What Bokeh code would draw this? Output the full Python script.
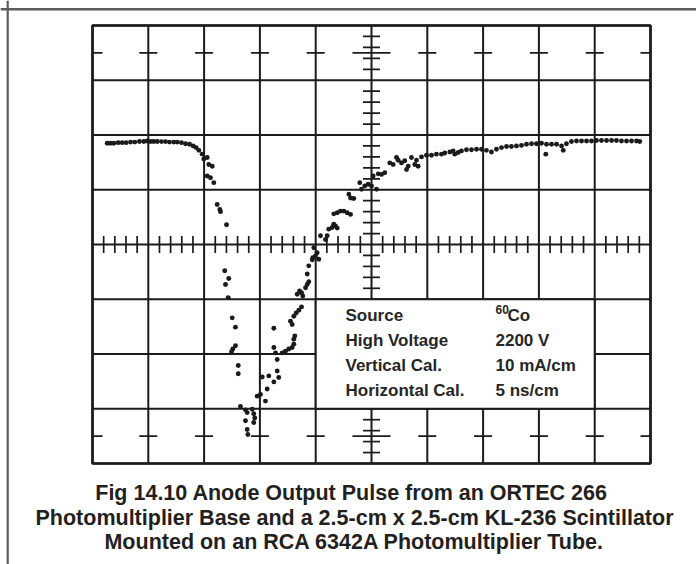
import numpy as np
from bokeh.plotting import figure
from bokeh.models import Range1d, Label, Span
from bokeh.embed import file_html
from bokeh.resources import INLINE

# ---------------- data ----------------
# time in ns (5 ns/cm), anode signal trace position in mA relative to the centre line (10 mA/cm)
time_ns = [
    1.32, 1.61, 1.91, 2.30, 2.66, 3.02, 3.41, 3.79, 4.21, 4.60,
    4.90, 5.20, 5.49, 5.80, 6.18, 6.54, 6.90, 7.29, 7.59, 7.97,
    8.33, 8.69, 9.02, 9.29, 9.53, 9.83, 9.97, 10.28, 10.42, 10.73,
    10.28, 10.57, 10.87, 11.17, 11.41, 11.47, 12.01,
    11.85, 12.21, 11.92, 12.16, 12.52, 12.81, 12.81, 12.57, 12.46, 13.06, 13.06,
    13.26, 13.71, 13.86, 14.31, 14.45, 14.54, 13.71, 13.86, 13.92, 14.45,
    14.76, 15.05, 15.65, 15.50, 15.21, 15.80, 16.25, 16.55, 16.69, 16.25, 16.40, 16.55, 16.25,
    17.00, 17.29, 17.59, 17.89, 18.04, 18.04, 18.13, 17.89, 17.74, 18.04, 18.25, 18.49, 18.73,
    18.34, 18.55, 18.73, 18.84, 19.09, 19.24, 19.38, 19.24, 19.38, 19.69, 19.98, 20.28, 20.13, 19.83, 19.74,
    20.43, 20.88, 21.03, 21.17, 21.48, 21.77, 21.93, 21.62, 21.62, 21.93, 22.22, 22.52, 22.82, 23.12, 22.97, 23.12, 23.41,
    23.95, 24.10, 24.40, 24.70, 25.00, 25.45, 25.15, 25.60, 25.90, 26.19,
    26.64, 26.94, 27.24, 27.39, 27.69, 27.98, 28.14, 28.29, 28.58, 29.03, 28.88, 29.18,
    29.48, 29.93, 30.38, 30.82, 31.27, 31.57, 32.02, 32.32, 32.46, 32.77,
    33.06, 33.51, 33.96, 34.41, 34.86, 35.30, 35.75, 36.20, 36.65, 37.10,
    37.54, 37.99, 38.44, 38.89, 39.34, 39.78, 40.23, 40.62, 40.68, 41.13,
    41.58, 42.03, 42.18, 42.47, 42.92, 43.37, 43.82, 44.27, 44.71, 45.16,
    45.61, 46.06, 46.51, 46.95, 47.40, 47.85, 48.30, 48.75, 49.04,
]
signal_mA = [
    18.5, 18.5, 18.5, 18.6, 18.6, 18.6, 18.7, 18.7, 18.8, 18.8,
    18.9, 18.8, 18.8, 18.8, 18.8, 18.8, 18.7, 18.7, 18.7, 18.6,
    18.4, 18.3, 18.0, 17.7, 17.2, 16.5, 15.6, 15.9, 14.6, 14.3,
    12.5, 12.2, 11.3, 7.3, 6.4, 6.0, 3.6,
    -4.8, -6.2, -7.3, -9.7, -13.4, -15.1, -18.5, -19.1, -19.6, -22.1, -23.6,
    -29.6, -30.2, -30.7, -30.1, -30.9, -31.7, -32.2, -33.8, -34.7, -32.5,
    -27.7, -27.4, -26.4, -28.6, -24.2, -24.0, -25.1, -23.1, -24.3, -18.8, -19.8, -21.0, -15.3,
    -19.8, -19.5, -19.1, -18.8, -18.2, -17.3, -16.7, -14.6, -14.0, -13.1, -12.5, -12.0, -11.4,
    -9.1, -8.5, -8.8, -9.4, -7.9, -7.3, -6.8, -5.4, -3.9, -2.8, -2.1, -2.7, -1.5, -0.6, -2.4,
    1.6, 0.9, 1.6, 2.8, 3.1, 3.4, 3.0, 3.7, 5.6, 5.8, 6.1, 6.1, 5.8, 5.5, 9.2, 8.5, 8.4,
    11.3, 10.1, 10.7, 11.0, 10.7, 10.1, 12.5, 12.9, 12.8, 13.1,
    14.9, 14.6, 15.9, 15.4, 14.9, 15.3, 13.7, 14.3, 15.9, 15.4, 14.6, 14.3,
    16.0, 16.3, 16.3, 16.5, 16.5, 16.7, 16.9, 17.1, 16.5, 16.8,
    17.1, 17.3, 17.3, 17.4, 17.4, 17.2, 16.9, 17.4, 17.7, 17.9,
    17.9, 18.0, 18.1, 18.3, 18.4, 18.4, 18.5, 16.5, 18.3, 18.3,
    18.3, 18.0, 17.2, 18.4, 18.8, 18.9, 18.9, 18.9, 18.9, 19.0,
    19.0, 19.0, 19.0, 19.0, 18.9, 18.9, 18.9, 18.9, 18.8,
]

# graticule: 10 x 8 divisions (cm)
h_cal_ns = 5.0     # ns per cm
v_cal_mA = 10.0    # mA per cm
n_hdiv = 10
n_vdiv = 8

legend_labels = ["Source", "High Voltage", "Vertical Cal.", "Horizontal Cal."]
legend_values = ["Co", "2200 V", "10 mA/cm", "5 ns/cm"]
source_mass = "60"
caption_lines = [
    "Fig 14.10  Anode Output Pulse from an ORTEC 266",
    "Photomultiplier Base and a 2.5-cm x 2.5-cm KL-236 Scintillator",
    "Mounted on an RCA 6342A Photomultiplier Tube.",
]

# ---------------- layout ----------------
W, H = 696, 564
PX_PER_NS = 11.16
PX_PER_MA = 5.475
GX0 = 92.0      # graticule left edge, px from figure left
GYC = 244.0     # graticule centre line, px from figure top
TXT_DY = 8.0    # labels render this much lower than their anchor


def lx(px):  # figure px (from left) -> ns
    return (px - GX0) / PX_PER_NS


def ly(py):  # figure px (from top) -> mA
    return (GYC - py) / PX_PER_MA


p = figure(width=W, height=H, output_backend="svg", toolbar_location=None,
           x_range=Range1d(lx(0), lx(W)), y_range=Range1d(ly(H), ly(0)),
           x_axis_type=None, y_axis_type=None, min_border=0)
p.grid.visible = False
p.outline_line_color = None
p.background_fill_color = "white"
p.border_fill_color = "white"

ink = "#1b1b1b"
xmax = n_hdiv * h_cal_ns
ymax = n_vdiv / 2 * v_cal_mA
xc = xmax / 2

# page frame (top and left rules)
p.add_layout(Span(location=ly(8.7), dimension="width", line_color="#5c5c5c", line_width=2.5))
p.add_layout(Span(location=lx(7.2), dimension="height", line_color="#5c5c5c", line_width=2.2))

# major graticule lines
vx = np.arange(0, xmax + 0.01, h_cal_ns)
p.segment(x0=vx, y0=-ymax, x1=vx, y1=ymax, line_color=ink, line_width=2)
hy = np.arange(-ymax, ymax + 0.01, v_cal_mA)
p.segment(x0=0, y0=hy, x1=xmax, y1=hy, line_color=ink, line_width=2)
p.quad(left=0, right=xmax, bottom=-ymax, top=ymax, fill_color=None, line_color=ink, line_width=2.6)

# minor ticks on centre horizontal line
tx = np.array([t for t in np.arange(1, xmax, h_cal_ns / 5) if abs(t / h_cal_ns - round(t / h_cal_ns)) > 1e-6])
tdy = 8.5 / PX_PER_MA
p.segment(x0=tx, y0=-tdy, x1=tx, y1=tdy, line_color=ink, line_width=1.7)
# minor ticks on centre vertical line
ty = np.array([t for t in np.arange(-ymax + 2, ymax, v_cal_mA / 5) if abs(t / v_cal_mA - round(t / v_cal_mA)) > 1e-6])
tdx = 8.5 / PX_PER_NS
p.segment(x0=xc - tdx, y0=ty, x1=xc + tdx, y1=ty, line_color=ink, line_width=1.7)

# "+" marks half a division inside top and bottom
my = np.array([ymax - v_cal_mA / 2, -ymax + v_cal_mA / 2])
mx0, mx1, myy = [], [], []
for yv in my:
    for xv in vx:
        if xv == 0:
            a, b = 0, 10 / PX_PER_NS
        elif xv == xmax:
            a, b = xmax - 10 / PX_PER_NS, xmax
        elif xv == xc:
            a, b = xv - 19 / PX_PER_NS, xv + 19 / PX_PER_NS
        else:
            a, b = xv - 9 / PX_PER_NS, xv + 9 / PX_PER_NS
        mx0.append(a); mx1.append(b); myy.append(yv)
p.segment(x0=mx0, y0=myy, x1=mx1, y1=myy, line_color=ink, line_width=1.8)

# legend box (covers divisions 4..9, rows -1..-3)
p.quad(left=4 * h_cal_ns, right=9 * h_cal_ns, top=-1 * v_cal_mA, bottom=-3 * v_cal_mA,
       fill_color="white", line_color=ink, line_width=2)

lab_font = "Liberation Sans"
col1_x, col2_x = lx(345), lx(495)
rows_py = [322.5, 347.5, 372.5, 397.5]
for lab, val, py in zip(legend_labels, legend_values, rows_py):
    p.add_layout(Label(x=col1_x, y=ly(py - TXT_DY), text=lab, text_font=lab_font, text_font_size="17px",
                       text_font_style="bold", text_color="#262626", text_align="left",
                       text_baseline="alphabetic"))
    vx_ = col2_x + (12 / PX_PER_NS if val == "Co" else 0)
    p.add_layout(Label(x=vx_, y=ly(py - TXT_DY), text=val, text_font=lab_font, text_font_size="17px",
                       text_font_style="bold", text_color="#262626", text_align="left",
                       text_baseline="alphabetic"))
p.add_layout(Label(x=col2_x, y=ly(316.5 - TXT_DY), text=source_mass, text_font=lab_font, text_font_size="12px",
                   text_font_style="bold", text_color="#262626", text_align="left", text_baseline="alphabetic"))

# caption
cap_x = lx(354)
for line, py in zip(caption_lines, [500.7, 525.3, 549.7]):
    p.add_layout(Label(x=cap_x, y=ly(py - TXT_DY), text=line, text_font="Liberation Sans", text_font_style="bold",
                       text_font_size="21.5px", text_color="#231f20", text_align="center",
                       text_baseline="alphabetic"))

# trace dots
p.scatter(time_ns, signal_mA, size=4.9, fill_color="#1a1a1a", line_color=None)

open("out.html", "w").write(file_html(p, INLINE))
